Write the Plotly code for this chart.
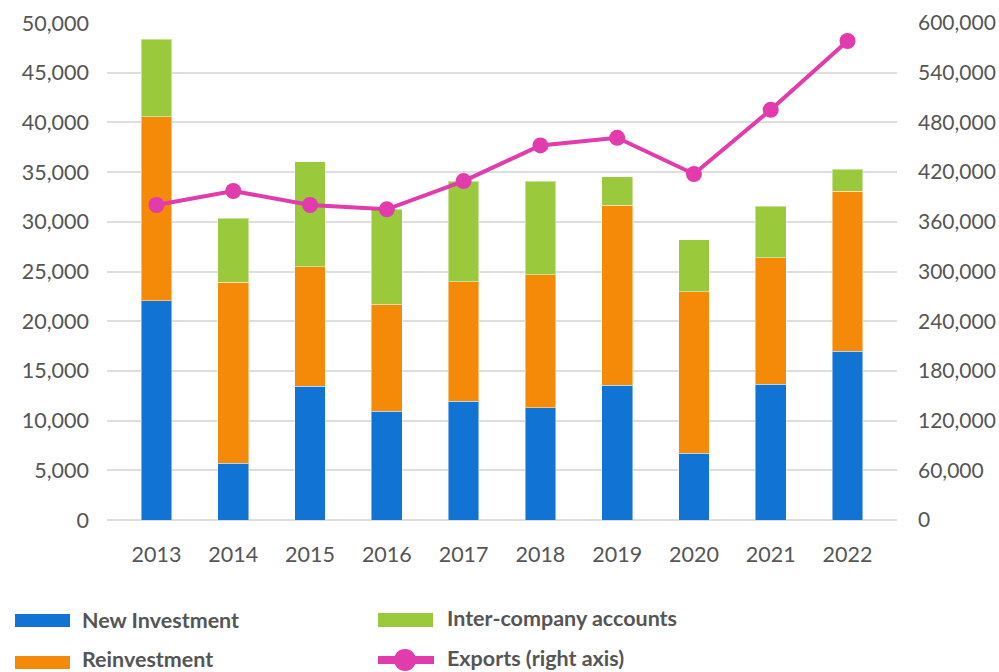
import plotly.graph_objects as go

years = ["2013", "2014", "2015", "2016", "2017", "2018", "2019", "2020", "2021", "2022"]
new_investment = [22050, 5690, 13470, 10940, 11950, 11280, 13570, 6700, 13670, 17000]
reinvestment_top = [40560, 23900, 25470, 21690, 23960, 24670, 31690, 22960, 26370, 33070]
intercompany_top = [48390, 30350, 36040, 31260, 34070, 34070, 34540, 28180, 31560, 35310]
exports = [380300, 397200, 380300, 375100, 409200, 452200, 461400, 417700, 495200, 578300]

reinvestment = [r - n for r, n in zip(reinvestment_top, new_investment)]
intercompany = [i - r for i, r in zip(intercompany_top, reinvestment_top)]

BLUE = "#1174d4"
ORANGE = "#f48a08"
GREEN = "#9aca3c"
PINK = "#e23bad"
TEXT = "#555555"
FONT = "Lato"

W, H = 999, 672
ML, MR, MT, MB = 107, 102, 23, 152
PW, PH = W - ML - MR, H - MT - MB

def px(x):
    return (x - ML) / PW

def py(y):
    return (H - MB - y) / PH

fig = go.Figure()
edge = dict(color="rgba(255,255,255,0.45)", width=1)
fig.add_trace(go.Bar(x=years, y=new_investment, name="New Investment",
                     marker=dict(color=BLUE, line=edge), showlegend=False))
fig.add_trace(go.Bar(x=years, y=reinvestment, name="Reinvestment",
                     marker=dict(color=ORANGE, line=edge), showlegend=False))
fig.add_trace(go.Bar(x=years, y=intercompany, name="Inter-company accounts",
                     marker=dict(color=GREEN, line=edge), showlegend=False))
fig.add_trace(go.Scatter(x=years, y=exports, name="Exports (right axis)", yaxis="y2",
                         mode="lines+markers", line=dict(color=PINK, width=4),
                         marker=dict(color=PINK, size=16), showlegend=False))

shapes = []
annotations = []
LEG_FONT = dict(family=FONT, size=21.5, color=TEXT, weight="bold")

def rect_item(x0, x1, y0, y1, color, label, tx, ty):
    shapes.append(dict(type="rect", xref="paper", yref="paper",
                       x0=px(x0), x1=px(x1), y0=py(y1), y1=py(y0),
                       fillcolor=color, line=dict(width=0)))
    annotations.append(dict(text=label, xref="paper", yref="paper", x=px(tx), y=py(ty),
                            xanchor="left", yanchor="middle", showarrow=False,
                            font=LEG_FONT))

rect_item(15, 70, 614, 627, BLUE, "New Investment", 80, 620)
rect_item(15, 70, 656, 669, ORANGE, "Reinvestment", 80, 658.5)
rect_item(378, 433, 613, 627, GREEN, "Inter-company accounts", 445, 618)
shapes.append(dict(type="line", xref="paper", yref="paper",
                   x0=px(378), x1=px(434), y0=py(660), y1=py(660),
                   line=dict(color=PINK, width=8)))
shapes.append(dict(type="circle", xref="paper", yref="paper",
                   x0=px(394), x1=px(416), y0=py(671), y1=py(649),
                   fillcolor=PINK, line=dict(width=0)))
annotations.append(dict(text="Exports (right axis)", xref="paper", yref="paper", x=px(445), y=py(658),
                        xanchor="left", yanchor="middle", showarrow=False, font=LEG_FONT))

TICKFONT = dict(family=FONT, size=21.5, color=TEXT)
fig.update_layout(
    width=W, height=H,
    margin=dict(l=ML, r=MR, t=MT, b=MB, pad=0),
    barmode="stack", bargap=0.6,
    plot_bgcolor="white", paper_bgcolor="white",
    font=dict(family=FONT, size=21.5, color=TEXT),
    xaxis=dict(showgrid=False, showline=False, ticks="", ticklabelstandoff=19,
               automargin=False, tickfont=TICKFONT),
    yaxis=dict(range=[0, 50000], dtick=5000, tickformat=",d", showgrid=True,
               gridcolor="#dedede", gridwidth=1.5, zeroline=True, zerolinecolor="#dedede",
               zerolinewidth=1.5, showline=False, ticks="", ticklabelstandoff=17,
               automargin=False, tickfont=TICKFONT),
    yaxis2=dict(range=[0, 600000], dtick=60000, tickformat=",d", overlaying="y", side="right",
                showgrid=False, zeroline=False, showline=False, ticks="", ticklabelstandoff=20,
                automargin=False, tickfont=dict(family=FONT, size=21, color=TEXT)),
    shapes=shapes, annotations=annotations,
    showlegend=False,
)

fig.write_html("out.html", config={"displayModeBar": False},
               post_script="document.body.style.margin='0px';document.body.style.overflow='hidden';")
